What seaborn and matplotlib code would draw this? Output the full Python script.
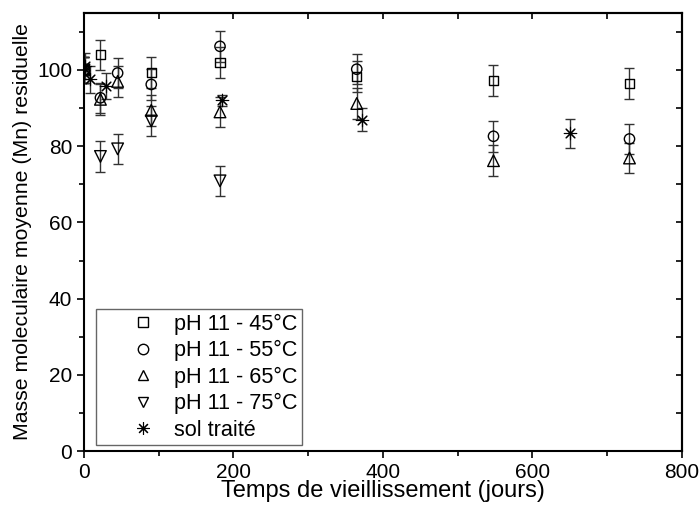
import matplotlib
matplotlib.use("Agg")
import matplotlib.pyplot as plt
from matplotlib.lines import Line2D
import seaborn as sns
import pandas as pd

# ---- data ----
t_45 = [0, 22, 90, 182, 365, 548, 730]
mn_45 = [100, 104.0, 99.3, 102.0, 98.3, 97.3, 96.4]
err_45 = [3.5, 3.9, 4.0, 4.0, 4.0, 4.0, 4.0]

t_55 = [0, 22, 45, 90, 182, 365, 548, 730]
mn_55 = [100, 92.7, 99.2, 96.2, 106.2, 100.2, 82.6, 81.9]
err_55 = [3.5, 4.0, 4.0, 4.0, 4.0, 4.0, 4.0, 4.0]

t_65 = [0, 22, 45, 90, 182, 365, 548, 730]
mn_65 = [100, 92.3, 97.0, 89.4, 89.0, 91.2, 76.2, 76.9]
err_65 = [3.5, 4.0, 4.0, 4.0, 4.0, 4.0, 4.0, 4.0]

t_75 = [0, 22, 45, 90, 182]
mn_75 = [100, 77.3, 79.3, 86.6, 70.9]
err_75 = [3.5, 4.0, 4.0, 4.0, 4.0]

t_sol = [2, 8, 30, 185, 372, 650]
mn_sol = [101.0, 97.5, 95.8, 92.0, 87.0, 83.4]
err_sol = [3.5, 3.5, 3.5, 1.5, 3.0, 3.8]

labels = ["pH 11 - 45°C", "pH 11 - 55°C", "pH 11 - 65°C", "pH 11 - 75°C", "sol traité"]
x_label = "Temps de vieillissement (jours)"
y_label = "Masse moleculaire moyenne (Mn) residuelle"

series = [
    (t_45, mn_45, err_45, "s", 42),
    (t_55, mn_55, err_55, "o", 55),
    (t_65, mn_65, err_65, "^", 70),
    (t_75, mn_75, err_75, "v", 70),
    (t_sol, mn_sol, err_sol, (8, 2, 0), 80),
]

sns.set_style("ticks")
plt.rcParams["font.family"] = ["Liberation Sans", "DejaVu Sans"]
plt.rcParams["font.size"] = 15
for key in ["text.color", "axes.labelcolor", "xtick.color", "ytick.color",
            "xtick.labelcolor", "ytick.labelcolor", "axes.edgecolor"]:
    plt.rcParams[key] = "black"

fig = plt.figure(figsize=(7, 5.12), dpi=100)
ax = fig.add_axes([0.12, 0.119, 0.854, 0.856])

for (tx, my, er, mk, sz), lab in zip(series, labels):
    df = pd.DataFrame({"t": tx, "mn": my})
    ax.errorbar(tx, my, yerr=er, fmt="none", ecolor="#333333",
                elinewidth=1.0, capsize=3.5, capthick=1.0, zorder=2)
    if isinstance(mk, tuple):
        sns.scatterplot(data=df, x="t", y="mn", marker=mk, s=sz,
                        color="black", linewidth=0.8, ax=ax, zorder=3)
    else:
        sns.scatterplot(data=df, x="t", y="mn", marker=mk, s=sz,
                        facecolor="none", edgecolor="black", linewidth=1.0,
                        ax=ax, zorder=3)

ax.set_xlim(0, 800)
ax.set_ylim(0, 115)
ax.set_xticks([0, 200, 400, 600, 800])
ax.set_xticks([100, 300, 500, 700], minor=True)
ax.set_yticks([0, 20, 40, 60, 80, 100])
ax.set_yticks([10, 30, 50, 70, 90, 110], minor=True)
ax.tick_params(which="major", direction="out", length=5, width=1.2, labelsize=15, color="black")
ax.tick_params(which="minor", direction="out", length=3.5, width=1.2, color="black")
for sp in ax.spines.values():
    sp.set_visible(True)
    sp.set_linewidth(1.5)
    sp.set_color("black")

secx = ax.secondary_xaxis("top")
secx.set_xticks([0, 200, 400, 600, 800])
secx.set_xticks([100, 300, 500, 700], minor=True)
secx.tick_params(which="both", direction="in", length=4, width=1.2, labeltop=False)
secx.spines["top"].set_linewidth(1.5)
secy = ax.secondary_yaxis("right")
secy.set_yticks([0, 20, 40, 60, 80, 100])
secy.set_yticks([10, 30, 50, 70, 90, 110], minor=True)
secy.tick_params(which="both", direction="in", length=4, width=1.2, labelright=False)
secy.spines["right"].set_linewidth(1.5)

ax.set_xlabel(x_label, fontsize=17, labelpad=-1)
ax.set_ylabel(y_label, fontsize=15.3, labelpad=4)

handles = []
for (tx, my, er, mk, sz), lab in zip(series, labels):
    if isinstance(mk, tuple):
        h = Line2D([], [], linestyle="none", marker=mk, markersize=9,
                   color="black", markeredgewidth=0.8, label=lab)
    else:
        h = Line2D([], [], linestyle="none", marker=mk, markersize=7.5,
                   markerfacecolor="none", markeredgecolor="black",
                   markeredgewidth=1.0, label=lab)
    handles.append(h)

leg = ax.legend(handles=handles, loc="lower left", bbox_to_anchor=(0.02, 0.014),
                borderaxespad=0, fontsize=15.6, frameon=True, fancybox=False,
                edgecolor="#666666", framealpha=1, borderpad=0.2,
                labelspacing=0.25, handlelength=3.9, handletextpad=-0.5)
leg.get_frame().set_linewidth(1.0)

fig.savefig("out.png", dpi=100)
